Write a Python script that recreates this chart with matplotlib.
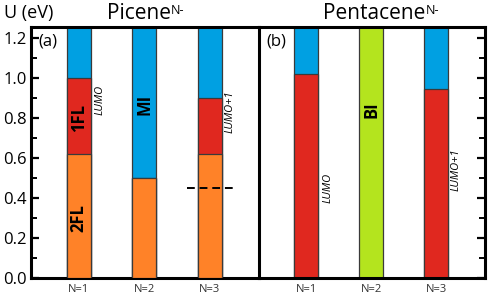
import matplotlib.pyplot as plt
from matplotlib.ticker import MultipleLocator, FormatStrFormatter

# Data (U in eV)
positions = [1, 2, 3]
tick_labels = ['N=1', 'N=2', 'N=3']
u_top = 1.255

# Picene: orange (2FL) -> red (1FL) -> blue (MI)
picene_orange = [0.62, 0.50, 0.62]
picene_red = [1.00, 0.50, 0.90]
# Pentacene: red -> blue, N=2 is all green (BI)
pentacene_red = [1.02, 0.0, 0.945]
pentacene_green = [0.0, u_top, 0.0]
dash_u = 0.45

blue = '#00a0e2'
red = '#e0281f'
orange = '#ff8228'
green = '#b4e41e'

plt.rcParams['font.family'] = ['Open Sans', 'DejaVu Sans']

fig = plt.figure(figsize=(4.91, 3.01), dpi=100)
ax1 = fig.add_axes([0.0631, 0.0764, 0.4644, 0.8339])
ax2 = fig.add_axes([0.5275, 0.0764, 0.4603, 0.8339])

w = 0.37
ec = '#3a3a3a'
for i, x in enumerate(positions):
    ax1.bar(x, u_top, width=w, color=blue, edgecolor=ec, linewidth=0.9, zorder=1)
    ax1.bar(x, picene_red[i], width=w, color=red, edgecolor=ec, linewidth=0.9, zorder=2)
    ax1.bar(x, picene_orange[i], width=w, color=orange, edgecolor=ec, linewidth=0.9, zorder=3)

    if pentacene_green[i] > 0:
        ax2.bar(x, pentacene_green[i], width=w, color=green, edgecolor=ec, linewidth=0.9)
    else:
        ax2.bar(x, u_top, width=w, color=blue, edgecolor=ec, linewidth=0.9, zorder=1)
        ax2.bar(x, pentacene_red[i], width=w, color=red, edgecolor=ec, linewidth=0.9, zorder=2)

ax1.plot([2.65, 3.38], [dash_u, dash_u], color='black', linestyle=(0, (4, 2.5)),
         linewidth=1.4, zorder=5)

for ax in (ax1, ax2):
    ax.set_xlim(0.27, 3.75)
    ax.set_ylim(0, u_top)
    ax.set_xticks(positions)
    ax.set_xticklabels(tick_labels, fontsize=8, color='#333333')
    ax.tick_params(axis='x', length=0, pad=4)
    ax.yaxis.set_major_locator(MultipleLocator(0.2))
    ax.yaxis.set_minor_locator(MultipleLocator(0.1))
    for s in ax.spines.values():
        s.set_linewidth(2.2)

ax1.tick_params(axis='y', which='major', direction='in', length=6, width=1.6,
                labelsize=12, pad=3, colors='black')
ax1.tick_params(axis='y', which='minor', direction='in', length=4, width=1.4)
ax1.yaxis.set_major_formatter(FormatStrFormatter('%.1f'))
ax1.spines['right'].set_visible(False)

ax2.yaxis.tick_right()
ax2.tick_params(axis='y', which='major', direction='in', length=6, width=1.6,
                labelright=False)
ax2.tick_params(axis='y', which='minor', direction='in', length=4, width=1.4)

# panel labels and annotations
ax1.text(0.38, 1.18, '(a)', fontsize=12, ha='left', va='center')
ax2.text(0.38, 1.18, '(b)', fontsize=12, ha='left', va='center')

bold_kw = dict(rotation=90, fontsize=12, fontweight='bold', ha='center', va='center')
ax1.text(1, 0.80, '1FL', **bold_kw)
ax1.text(1, 0.30, '2FL', **bold_kw)
ax1.text(2, 0.87, 'MI', **bold_kw)
ax2.text(2, 0.84, 'BI', **bold_kw)

ital_kw = dict(rotation=90, fontsize=8, style='italic', ha='center', va='center')
ax1.text(1.33, 0.89, 'LUMO', **ital_kw)
ax1.text(3.31, 0.83, 'LUMO+1', **ital_kw)
ax2.text(1.33, 0.45, 'LUMO', **ital_kw)
ax2.text(3.31, 0.54, 'LUMO+1', **ital_kw)

fig.text(0.008, 0.957, 'U (eV)', fontsize=13, ha='left', va='center')
t1 = fig.text(0.218, 0.955, 'Picene', fontsize=15, ha='left', va='center')
ax1.annotate('N-', xy=(1.0, 0.95), xycoords=t1, fontsize=9,
             ha='left', va='top', annotation_clip=False)
t2 = fig.text(0.658, 0.955, 'Pentacene', fontsize=15, ha='left', va='center')
ax2.annotate('N-', xy=(1.0, 0.95), xycoords=t2, fontsize=9,
             ha='left', va='top', annotation_clip=False)

fig.savefig('out.png', dpi=100)
